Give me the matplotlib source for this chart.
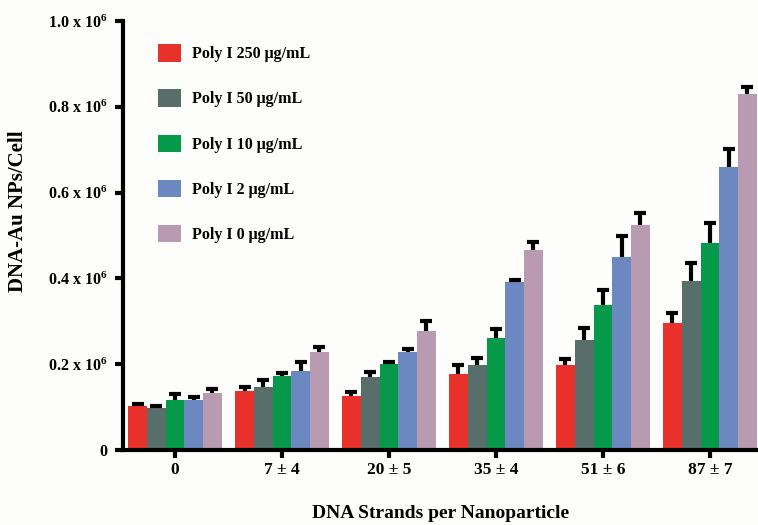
import matplotlib
matplotlib.use("Agg")
import matplotlib.pyplot as plt
import numpy as np
from matplotlib.patches import Patch

plt.rcParams['font.family'] = ['Liberation Serif', 'DejaVu Serif']
plt.rcParams['font.weight'] = 'bold'
plt.rcParams['mathtext.fontset'] = 'custom'
plt.rcParams['mathtext.rm'] = 'Liberation Serif:bold'
plt.rcParams['mathtext.it'] = 'Liberation Serif:bold'
plt.rcParams['mathtext.bf'] = 'Liberation Serif:bold'

categories = ["0", "7 \u00b1 4", "20 \u00b1 5", "35 \u00b1 4", "51 \u00b1 6", "87 \u00b1 7"]
series_names = ["Poly I 250 \u03bcg/mL", "Poly I 50 \u03bcg/mL", "Poly I 10 \u03bcg/mL",
                "Poly I 2 \u03bcg/mL", "Poly I 0 \u03bcg/mL"]
colors = ["#e8312a", "#586e6b", "#06994a", "#6c88c0", "#b89bb0"]

# values in units of 1e6
poly250 = [0.103, 0.137, 0.126, 0.177, 0.199, 0.295]
poly50 = [0.098, 0.147, 0.169, 0.199, 0.256, 0.395]
poly10 = [0.116, 0.173, 0.200, 0.261, 0.339, 0.483]
poly2 = [0.116, 0.184, 0.229, 0.391, 0.450, 0.659]
poly0 = [0.133, 0.229, 0.277, 0.467, 0.525, 0.830]

err250 = [0.004, 0.010, 0.010, 0.021, 0.012, 0.024]
err50 = [0.004, 0.017, 0.013, 0.016, 0.029, 0.041]
err10 = [0.014, 0.007, 0.005, 0.021, 0.035, 0.047]
err2 = [0.008, 0.021, 0.007, 0.006, 0.048, 0.042]
err0 = [0.010, 0.010, 0.024, 0.019, 0.028, 0.015]

yticks = [0, 0.2, 0.4, 0.6, 0.8, 1.0]
yticklabels = ["0", "0.2 x 10$^{6}$", "0.4 x 10$^{6}$", "0.6 x 10$^{6}$",
               "0.8 x 10$^{6}$", "1.0 x 10$^{6}$"]

values = [poly250, poly50, poly10, poly2, poly0]
errors = [err250, err50, err10, err2, err0]

fig = plt.figure(figsize=(7.58, 5.25), dpi=100)
fig.patch.set_facecolor('#fdfdfb')
ax = fig.add_axes([123/758, 75/525, 635/758, 429/525])
ax.set_facecolor('#fdfdfb')

x = np.arange(len(categories))
bw = 0.175
for i, (vals, errs, c) in enumerate(zip(values, errors, colors)):
    pos = x + (i - 2) * bw
    ax.bar(pos, vals, width=bw, color=c, edgecolor='none', zorder=2)
    eb = ax.errorbar(pos, vals, yerr=[np.zeros(len(vals)), errs], fmt='none',
                     ecolor='black', elinewidth=3, capsize=4.5, capthick=3, zorder=3)
    caps = eb[1]
    if len(caps) == 2:
        caps[0].set_visible(False)

ax.set_xlim(-0.486, 5.45)
ax.set_ylim(0, 1.0)
ax.set_xticks(x)
ax.set_xticklabels(categories, fontsize=12.5, fontweight='bold')
ax.set_yticks(yticks)
ax.set_yticklabels(yticklabels, fontsize=11.5, fontweight='bold')

for s in ['top', 'right']:
    ax.spines[s].set_visible(False)
for s in ['left', 'bottom']:
    ax.spines[s].set_linewidth(3)
    ax.spines[s].set_capstyle('projecting')
ax.tick_params(axis='both', width=3, length=6, direction='out', pad=5)
ax.tick_params(axis='x', pad=3)

ax.set_ylabel("DNA-Au NPs/Cell", fontsize=15, fontweight='bold')
ax.yaxis.set_label_coords(-0.150, 0.557)
ax.set_xlabel("DNA Strands per Nanoparticle", fontsize=14, fontweight='bold', labelpad=19)

handles = [Patch(facecolor=c, edgecolor='none') for c in colors]
leg = ax.legend(handles, series_names, loc='upper left', bbox_to_anchor=(0.045, 0.961),
                frameon=False, fontsize=11.5, labelspacing=1.7, handlelength=1.45,
                handleheight=1.3, handletextpad=0.7, borderaxespad=0)
for t in leg.get_texts():
    t.set_fontweight('bold')

fig.savefig("out.png", dpi=100, facecolor=fig.get_facecolor())
